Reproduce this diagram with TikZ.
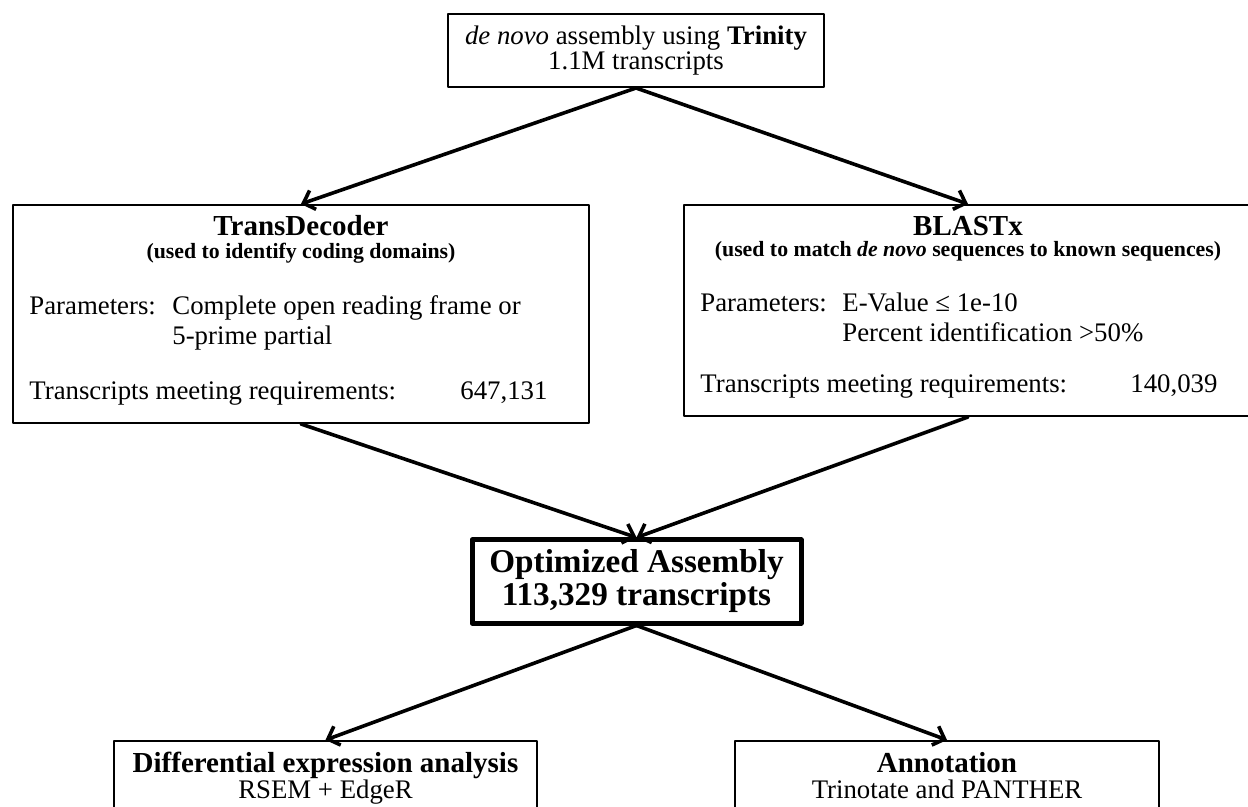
\documentclass[tikz,border=0pt]{standalone}
\usepackage{fontspec}
\setmainfont{Liberation Serif}
\usetikzlibrary{arrows.meta}
\newcommand{\bodyfont}{\fontsize{13.4}{15}\selectfont}
\newcommand{\headfont}{\fontsize{14.5}{15}\selectfont\bfseries}
\newcommand{\notefont}{\fontsize{10.9}{12}\selectfont\bfseries}
\newcommand{\bigfont}{\fontsize{16.6}{16.5}\selectfont\bfseries}
\tikzset{
  box/.style={draw, line width=1pt, inner sep=0pt},
  bigbox/.style={draw, line width=2.5pt, inner sep=0pt},
  flow/.style={line width=1.8pt, -{Straight Barb[length=5pt,width=10pt]}},
  txt/.style={inner sep=0pt, font=\bodyfont},
}
\begin{document}
\begin{tikzpicture}[x=0.5pt, y=-0.5pt, line join=round, line cap=round]
  \useasboundingbox (0,0) rectangle (1248,807);
  %%%%%%%%%%%%%%%%%%%%%%%%%%%%%%%%%
  \node[box, minimum width=188pt, minimum height=36.5pt, align=center,
        font=\fontsize{13.4}{12.5}\selectfont] (trinity) at (636,50.5)
        {\textit{de novo} assembly using \textbf{Trinity}\\1.1M transcripts};
  \node[box, minimum width=288pt, minimum height=109pt] (trans) at (301,314) {};
  \node[box, minimum width=284pt, minimum height=105.5pt] (blast) at (968,310.5) {};
  \node[bigbox, minimum width=164.5pt, minimum height=41.5pt, align=center,
        font=\bigfont] (opt) at (636.5,581.5) {Optimized Assembly\\113,329 transcripts};
  \node[box, minimum width=211.5pt, minimum height=37pt] (diff) at (325.5,778) {};
  \node[box, minimum width=212pt, minimum height=37pt] (annot) at (947,778) {};
  %%%%%%%%%%%%%%%%%%%%%%%%%%%%%%%%%
  \node[txt, anchor=base, font=\headfont] (transtitle) at (301,236) {TransDecoder};
  \node[txt, anchor=base, font=\notefont] (transnote) at (301,259) {(used to identify coding domains)};
  \node[txt, anchor=base west] (transpar) at (29,315) {Parameters:};
  \node[txt, anchor=base west] (transval) at (172,315) {Complete open reading frame or};
  \node[txt, anchor=base west] (transvalb) at (172,345) {5-prime partial};
  \node[txt, anchor=base west] (transcnt) at (29,400) {Transcripts meeting requirements:};
  \node[txt, anchor=base west] (transnum) at (460,400) {647,131};
  %%%%%%%%%%%%%%%%%%%%%%%%%%%%%%%%%
  \node[txt, anchor=base, font=\headfont] (blasttitle) at (968,236) {BLASTx};
  \node[txt, anchor=base, font=\notefont] (blastnote) at (968,257) {(used to match \textit{de novo} sequences to known sequences)};
  \node[txt, anchor=base west] (blastpar) at (700,312) {Parameters:};
  \node[txt, anchor=base west] (blastval) at (842,312) {E-Value ≤ 1e-10};
  \node[txt, anchor=base west] (blastvalb) at (842,342) {Percent identification >50\%};
  \node[txt, anchor=base west] (blastcnt) at (700,393) {Transcripts meeting requirements:};
  \node[txt, anchor=base west] (blastnum) at (1130,393) {140,039};
  %%%%%%%%%%%%%%%%%%%%%%%%%%%%%%%%%
  \node[txt, anchor=base, font=\headfont] (difftitle) at (325.5,772) {Differential expression analysis};
  \node[txt, anchor=base] (difftool) at (325.5,798) {RSEM + EdgeR};
  \node[txt, anchor=base, font=\headfont] (annottitle) at (947,772) {Annotation};
  \node[txt, anchor=base] (annottool) at (947,798) {Trinotate and PANTHER};
  %%%%%%%%%%%%%%%%%%%%%%%%%%%%%%%%%
  \draw[flow] (trinity.south) -- (trans.north);
  \draw[flow] (trinity.south) -- (blast.north);
  \draw[flow] (trans.south) -- (opt.north);
  \draw[flow] (blast.south) -- (opt.north);
  \draw[flow] (opt.south) -- (diff.north);
  \draw[flow] (opt.south) -- (annot.north);
\end{tikzpicture}
\end{document}
